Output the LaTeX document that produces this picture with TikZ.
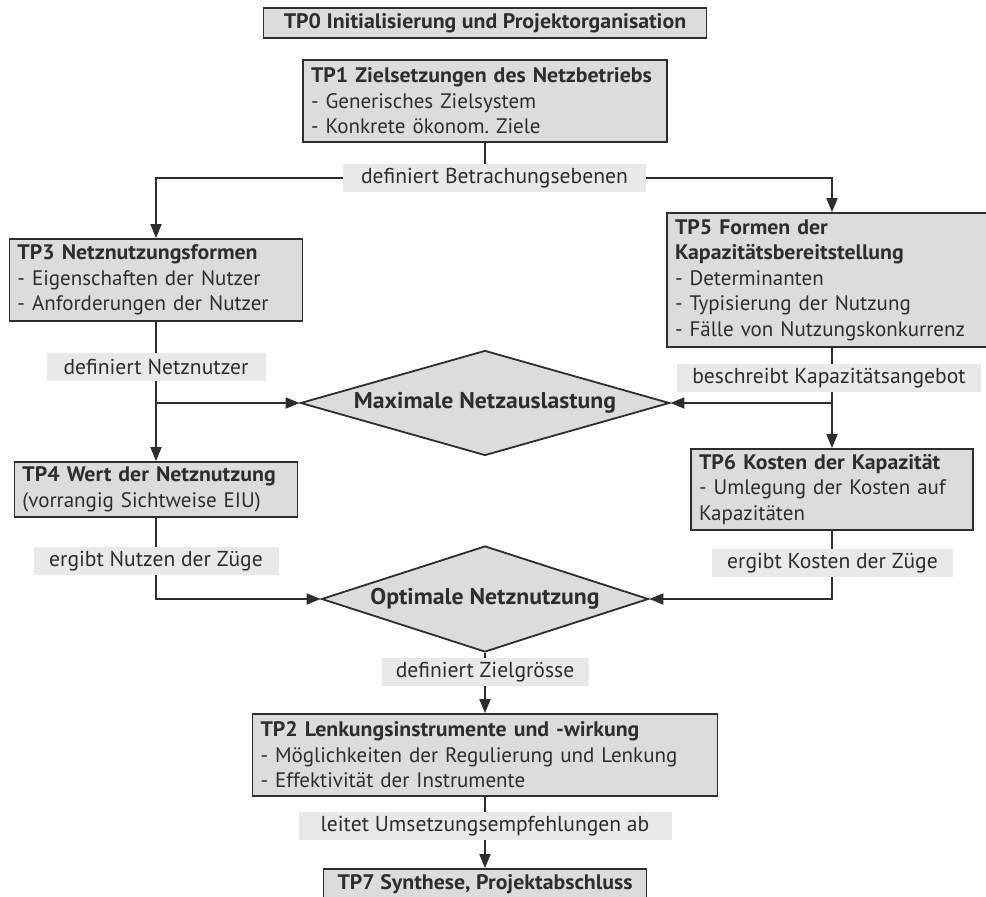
\documentclass[tikz,border=0pt]{standalone}
\usepackage{fontspec}
\setmainfont{PT Sans}[BoldFeatures={FakeStretch=1.04}]
\usetikzlibrary{shapes.geometric,arrows.meta,backgrounds}
\definecolor{boxfill}{RGB}{220,220,222}
\definecolor{lblfill}{RGB}{233,233,233}
\definecolor{rand}{RGB}{45,45,45}
\definecolor{schrift}{RGB}{45,45,45}
\frenchspacing
\begin{document}
\begin{tikzpicture}[x=0.5pt,y=-0.5pt,
  font=\fontsize{10.5}{12.8}\selectfont, text=schrift,
  tp/.style={draw=rand, line width=0.9pt, fill=boxfill, align=left, inner xsep=4pt, inner ysep=0pt},
  tpkopf/.style={tp, align=center, minimum height=15pt, font=\fontsize{10.5}{12.8}\selectfont\bfseries},
  lbl/.style={fill=lblfill, inner sep=0pt, minimum height=14pt, font=\fontsize{10.8}{12.8}\selectfont},
  raute/.style={diamond, aspect=3.5, draw=rand, line width=0.9pt, fill=boxfill, inner sep=0pt, font=\fontsize{11.4}{13}\selectfont\bfseries},
  pfeil/.style={draw=rand, line width=0.9pt, -{Triangle[length=7pt,width=5.5pt]}}]
\useasboundingbox (0,0) rectangle (986,897);

% Teilprojekte
\node[tpkopf, minimum width=221.5pt] (tp0) at (485,23) {TP0 Initialisierung und Projektorganisation};
\node[tp, text width=174pt, minimum height=41pt] (tp1) at (485,101)
  {\textbf{TP1 Zielsetzungen des Netzbetriebs}\\- Generisches Zielsystem\\- Konkrete ökonom. Ziele};
\node[tp, text width=138.5pt, minimum height=41pt] (tp3) at (156,280)
  {\textbf{TP3 Netznutzungsformen}\\- Eigenschaften der Nutzer\\- Anforderungen der Nutzer};
\node[tp, text width=172pt, minimum height=67pt] (tp5) at (847,280)
  {\textbf{TP5 Formen der}\\\textbf{Kapazitätsbereitstellung}\\- Determinanten\\- Typisierung der Nutzung\\- Fälle von Nutzungskonkurrenz};
\node[tp, text width=133.5pt, minimum height=27.5pt] (tp4) at (156,489.5)
  {\textbf{TP4 Wert der Netznutzung}\\(vorrangig Sichtweise EIU)};
\node[tp, text width=133pt, minimum height=40.5pt] (tp6) at (832,489.5)
  {\textbf{TP6 Kosten der Kapazität}\\- Umlegung der Kosten auf\\Kapazitäten};
\node[tp, text width=224.5pt, minimum height=41pt] (tp2) at (485,755)
  {\textbf{TP2 Lenkungsinstrumente und -wirkung}\\- Möglichkeiten der Regulierung und Lenkung\\- Effektivität der Instrumente};
\node[tpkopf, minimum width=161.5pt] (tp7) at (485,884) {TP7 Synthese, Projektabschluss};

% Rauten
\node[raute, minimum width=184.5pt, minimum height=52.5pt] (maxd) at (485,403) {Maximale Netzauslastung};
\node[raute, minimum width=163.5pt, minimum height=53pt] (optd) at (485,599) {Optimale Netznutzung};

% Beschriftungen
\node[lbl, minimum width=151.5pt] (betr) at (494.5,178) {definiert Betrachungsebenen};
\node[lbl, minimum width=109.5pt] (nnutzer) at (156,367) {definiert Netznutzer};
\node[lbl, minimum width=152pt] (kapang) at (829,378.5) {beschreibt Kapazitätsangebot};
\node[lbl, minimum width=122.5pt] (nutzen) at (156,561) {ergibt Nutzen der Züge};
\node[lbl, minimum width=120.5pt] (kosten) at (832.5,563) {ergibt Kosten der Züge};
\node[lbl, minimum width=103.5pt] (ziel) at (485,672.5) {definiert Zielgrösse};
\node[lbl, minimum width=186.5pt] (umsetz) at (485,826) {leitet Umsetzungsempfehlungen ab};

% Verbindungen
\begin{pgfonlayer}{background}
\draw[pfeil] (tp1) -- (tp1 |- betr) -| (tp6 |- tp5.north);
\draw[pfeil] (tp1 |- betr) -| (tp3);
\draw[pfeil] (tp3) -- (tp4);
\draw[pfeil] (tp3 |- maxd) -- (maxd);
\draw[pfeil] (tp6 |- tp5) -- (tp6);
\draw[pfeil] (tp6 |- maxd) -- (maxd);
\draw[pfeil] (tp4) |- (optd);
\draw[pfeil] (tp6) |- (optd);
\draw[pfeil] (optd) -- (tp2);
\draw[pfeil] (tp2) -- (tp7);
\end{pgfonlayer}
\end{tikzpicture}
\end{document}
